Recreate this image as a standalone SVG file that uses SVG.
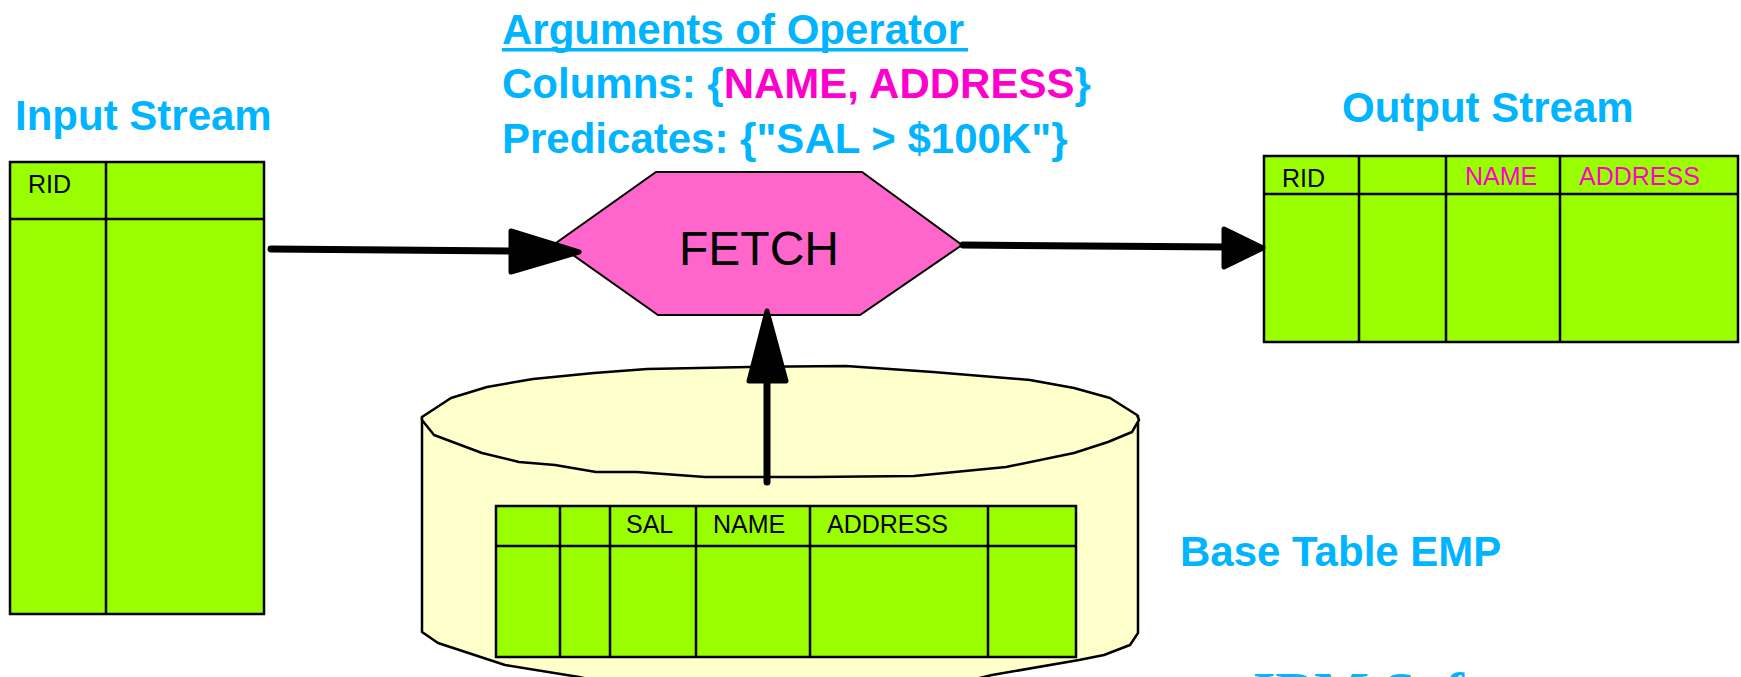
<svg xmlns="http://www.w3.org/2000/svg" width="1741" height="677" viewBox="0 0 1741 677">
<style>
.title{font-family:"Liberation Sans",Arial,sans-serif;font-weight:bold;font-size:42px;fill:#00B4FF}
.cell{fill:#99FF00;stroke:#000;stroke-width:2.5}
.ln{stroke:#000;stroke-width:2.5;fill:none}
.hdr{font-family:"Liberation Sans",Arial,sans-serif;font-size:25px;fill:#000}
.mag{fill:#FF00CC}
.hdr.mag{fill:#FF00CC}
.conn{stroke:#000;stroke-width:7;stroke-linecap:round;fill:none}
.head{fill:#000;stroke:#000;stroke-width:5;stroke-linejoin:round}
.cyl{fill:#FFFFCC;stroke:#000;stroke-width:2.5;stroke-linejoin:round}
</style>
<rect width="1741" height="677" fill="#fff"/>

<g id="labels">
<text class="title" x="15" y="130">Input Stream</text>
<text class="title" x="502" y="44">Arguments of Operator</text>
<rect x="502" y="48" width="466" height="3.5" fill="#00B4FF"/>
<text class="title" x="502" y="98">Columns: {<tspan class="mag">NAME, ADDRESS</tspan>}</text>
<text class="title" x="502" y="153">Predicates: {"SAL &gt; $100K"}</text>
<text class="title" x="1342" y="122">Output Stream</text>
<text class="title" x="1180" y="566" font-size="41">Base Table EMP</text>
<text x="1253" y="712" font-family="'Liberation Serif','Times New Roman',serif" font-weight="bold" font-size="58" fill="#00B4FF">IBM Software</text>
</g>

<g id="base-table-emp">
<path class="cyl" d="M422,417 L422,632 L438,643 L505,665 L579,677 L640,690 L930,690 L992,675 L1079,660 L1104,655 L1130,645 L1138,633 L1138,416 Z"/>
<polygon class="cyl" points="422,417 451,398 487,387 533,379 594,373 647,369 749,367 846,366 933,372 1030,380 1074,388 1110,398 1137,415 1139,420 1132,432 1108,442 1074,453 1006,467 914,476 812,477 705,477 637,472 596,472 555,465 519,462 482,453 434,435 422,420"/>
<rect class="cell" x="496" y="506" width="580" height="151"/>
<path class="ln" d="M496,546 H1076 M560,506 V657 M610,506 V657 M696,506 V657 M810,506 V657 M988,506 V657"/>
<text class="hdr" x="626" y="533">SAL</text>
<text class="hdr" x="713" y="533">NAME</text>
<text class="hdr" x="827" y="533">ADDRESS</text>
</g>

<g id="input-stream">
<rect class="cell" x="10" y="162" width="254" height="452"/>
<path class="ln" d="M10,219 H264 M106,162 V614"/>
<text class="hdr" x="28" y="193" font-size="27">RID</text>
</g>

<g id="output-stream">
<rect class="cell" x="1264" y="156" width="474" height="186"/>
<path class="ln" d="M1264,194 H1738 M1359,156 V342 M1446,156 V342 M1560,156 V342"/>
<text class="hdr" x="1282" y="187" font-size="27">RID</text>
<text class="hdr mag" x="1465" y="185">NAME</text>
<text class="hdr mag" x="1579" y="185">ADDRESS</text>
</g>

<g id="fetch">
<polygon points="656,172 862,172 962,245 860,315 658,315 556,243" fill="#FF66CC" stroke="#000" stroke-width="2"/>
<text x="759" y="265" text-anchor="middle" font-family="'Liberation Sans',Arial,sans-serif" font-size="48" fill="#000">FETCH</text>
</g>

<g id="connectors">
<line class="conn" x1="271" y1="249" x2="515" y2="251"/>
<polygon class="head" points="511,231 579,252 511,272"/>
<line class="conn" x1="963" y1="245" x2="1228" y2="247"/>
<polygon class="head" points="1224,229 1263,248 1224,267"/>
<line class="conn" x1="767" y1="482" x2="767" y2="378"/>
<polygon class="head" points="749,381 767,311 786,381"/>
</g>
</svg>
